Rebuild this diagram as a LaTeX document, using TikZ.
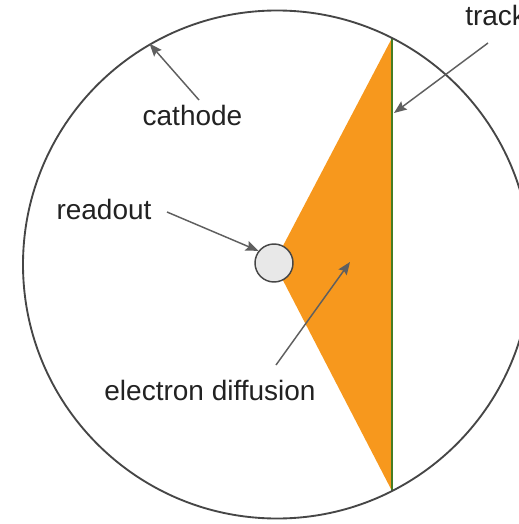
\documentclass[tikz,border=0pt]{standalone}
\usepackage{fontspec}
\usepackage{xcolor}
\usepackage{tikz}
\usetikzlibrary{shapes,arrows,arrows.meta,positioning,calc}
\newfontfamily\labelfont{Liberation Sans}
\definecolor{tpcorange}{RGB}{247, 152, 29}
\definecolor{tpcgreen}{RGB}{70, 125, 35}
\definecolor{tpcgray}{RGB}{70, 70, 70}
\definecolor{tpcarrow}{RGB}{95, 95, 95}
\definecolor{tpcpad}{RGB}{232, 232, 232}
\definecolor{tpctext}{RGB}{34, 34, 34}

\begin{document}
\begin{tikzpicture}[x=0.75pt, y=-0.75pt, >={Stealth[length=9.5pt, width=7.5pt, inset=1.5pt]}]
    \useasboundingbox (0,0) rectangle (518,524);
    % Track and diffusion cone
    \coordinate (tracktop) at (392,38);
    \coordinate (trackbot) at (392,491);
    \coordinate (readpos) at (274,263);
    \fill [tpcorange] (tracktop) -- (readpos) -- (trackbot) -- cycle;
    \draw [tpcgreen, line width=1.3pt] (tracktop) -- (trackbot);

    % Nodes
    \node [draw=tpcgray, circle, line width=1.4pt, minimum size=381pt, inner sep=0pt] (chamber) at (277,264.5) {};
    \node [draw=tpcgray, circle, fill=tpcpad, line width=1.1pt, minimum size=28.5pt, inner sep=0pt] (readout) at (readpos) {};
    \node [anchor=base, inner sep=0pt, text=tpctext, font=\labelfont\fontsize{21}{25}\selectfont] (cathodelbl) at (192.5,126) {cathode};
    \node [anchor=base, inner sep=0pt, text=tpctext, font=\labelfont\fontsize{21}{25}\selectfont] (readoutlbl) at (104,219) {readout};
    \node [anchor=base, inner sep=0pt, text=tpctext, font=\labelfont\fontsize{21}{25}\selectfont] (diffusionlbl) at (210,400) {electron diffusion};
    \node [anchor=base west, inner sep=0pt, text=tpctext, font=\labelfont\fontsize{21}{25}\selectfont] (tracklbl) at (465,26) {track};

    % Pointer ends
    \coordinate (cathodetail) at (199,100);
    \coordinate (tracktail) at (488,43);
    \coordinate (trackhit) at (394,113);
    \coordinate (readouttail) at (167,212);
    \coordinate (diffusiontail) at (276,365);
    \coordinate (diffusionhit) at (350,262);

    % Pointers
    \draw [->, tpcarrow, line width=1.1pt] (cathodetail) -- (chamber.120);
    \draw [->, tpcarrow, line width=1.1pt] (tracktail) -- (trackhit);
    \draw [->, tpcarrow, line width=1.1pt] (readouttail) -- (readout.142);
    \draw [->, tpcarrow, line width=1.1pt] (diffusiontail) -- (diffusionhit);
\end{tikzpicture}
\end{document}
